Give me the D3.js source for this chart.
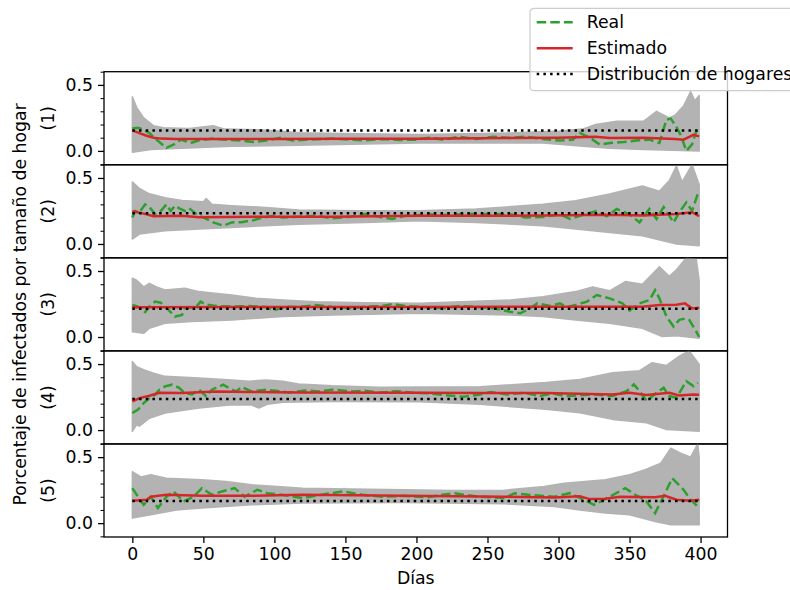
<!DOCTYPE html>
<html>
<head>
<meta charset="utf-8">
<script src="https://cdn.jsdelivr.net/npm/d3@7"></script>
<style>
  body { margin: 0; background: #fff; }
  text { font-family: "DejaVu Sans", sans-serif; }
</style>
</head>
<body>
<div id="chart"></div>
<script>
// tick labels / categories
const xTicks = [0, 50, 100, 150, 200, 250, 300, 350, 400];
const yTicks = [0, 0.5];
const yMinor = [-0.1, 0.1, 0.2, 0.3, 0.4, 0.6];
const panelLabels = ["(1)", "(2)", "(3)", "(4)", "(5)"];

// household distribution (black dotted), one value per panel
const dist = [0.155, 0.232, 0.215, 0.236, 0.168];

// Real (green dashed) [day, value]
const real1 = [[0,0.17],[4,0.175],[8,0.16],[12,0.135],[17,0.085],[24,0.023],[30,0.053],[34,0.085],[37,0.075],[41,0.06],[47,0.08],[57,0.093],[66,0.085],[76,0.078],[85,0.068],[94,0.078],[104,0.1],[113,0.078],[122,0.085],[141,0.093],[155,0.085],[164,0.08],[176,0.09],[188,0.083],[199,0.085],[209,0.1],[219,0.085],[230,0.108],[242,0.09],[254,0.108],[266,0.098],[277,0.108],[289,0.09],[301,0.078],[310,0.085],[315,0.136],[320,0.11],[324,0.085],[329,0.048],[336,0.06],[346,0.068],[355,0.078],[364,0.085],[371,0.06],[376,0.237],[379,0.245],[383,0.18],[386,0.12],[390,0.0],[394,0.05],[397,0.15],[399,0.135]];
const real2 = [[0,0.2],[2,0.25],[5,0.24],[9,0.3],[12,0.28],[16,0.227],[20,0.25],[24,0.3],[27,0.25],[30,0.29],[33,0.27],[37,0.25],[40,0.27],[45,0.227],[52,0.19],[57,0.163],[64,0.138],[70,0.163],[77,0.165],[85,0.18],[92,0.2],[99,0.213],[106,0.2],[117,0.206],[129,0.213],[141,0.195],[153,0.206],[164,0.227],[176,0.2],[183,0.19],[192,0.213],[202,0.22],[207,0.225],[219,0.22],[242,0.228],[266,0.225],[277,0.2],[289,0.205],[301,0.225],[308,0.19],[320,0.23],[327,0.25],[334,0.21],[341,0.265],[350,0.225],[357,0.163],[364,0.265],[369,0.19],[374,0.28],[381,0.163],[385,0.24],[390,0.315],[394,0.25],[398,0.378]];
const real3 = [[0,0.243],[4,0.23],[9,0.19],[12,0.23],[16,0.268],[20,0.26],[23,0.23],[26,0.2],[30,0.155],[35,0.167],[37,0.218],[45,0.23],[48,0.268],[52,0.245],[59,0.235],[70,0.23],[82,0.235],[94,0.227],[99,0.2],[108,0.23],[117,0.227],[129,0.242],[141,0.227],[155,0.218],[164,0.23],[176,0.235],[183,0.25],[192,0.235],[202,0.23],[219,0.218],[230,0.235],[242,0.227],[254,0.218],[266,0.192],[273,0.18],[280,0.218],[285,0.255],[294,0.235],[301,0.255],[306,0.227],[312,0.242],[320,0.268],[327,0.318],[336,0.293],[345,0.255],[350,0.2],[357,0.255],[364,0.28],[368,0.356],[371,0.293],[376,0.155],[381,0.079],[385,0.13],[389,0.14],[392,0.13],[397,0.04],[399,0.0]];
const real4 = [[0,0.129],[4,0.155],[8,0.205],[12,0.242],[16,0.268],[19,0.306],[23,0.331],[28,0.344],[33,0.32],[37,0.28],[42,0.27],[47,0.306],[52,0.255],[56,0.306],[64,0.344],[68,0.318],[73,0.293],[77,0.326],[84,0.293],[94,0.306],[101,0.298],[110,0.285],[122,0.3],[131,0.293],[141,0.306],[155,0.293],[164,0.298],[174,0.283],[186,0.295],[198,0.283],[209,0.278],[221,0.263],[233,0.253],[245,0.27],[252,0.288],[264,0.27],[276,0.283],[287,0.258],[296,0.278],[305,0.258],[315,0.263],[326,0.27],[338,0.258],[348,0.295],[353,0.346],[357,0.295],[362,0.22],[369,0.283],[374,0.32],[378,0.258],[383,0.245],[390,0.37],[395,0.333],[398,0.358]];
const real5 = [[0,0.265],[4,0.2],[8,0.139],[13,0.2],[18,0.114],[24,0.2],[29,0.24],[36,0.164],[43,0.2],[49,0.265],[56,0.215],[63,0.24],[72,0.265],[79,0.2],[88,0.253],[95,0.227],[105,0.215],[120,0.19],[137,0.222],[148,0.24],[162,0.215],[176,0.2],[191,0.207],[208,0.197],[226,0.227],[244,0.2],[262,0.19],[269,0.227],[279,0.215],[297,0.2],[308,0.227],[318,0.177],[325,0.139],[336,0.2],[347,0.265],[354,0.215],[361,0.177],[368,0.076],[375,0.227],[380,0.34],[388,0.253],[393,0.177],[398,0.126]];

// Estimado (red solid) [day, value]
const est1 = [[0,0.155],[5,0.135],[10,0.115],[15,0.1],[20,0.093],[30,0.09],[60,0.09],[100,0.09],[150,0.092],[200,0.092],[266,0.097],[300,0.1],[326,0.108],[336,0.098],[360,0.1],[382,0.09],[388,0.085],[395,0.122],[399,0.11]];
const est2 = [[0,0.248],[8,0.23],[15,0.21],[35,0.213],[47,0.203],[94,0.206],[141,0.206],[202,0.213],[289,0.215],[336,0.222],[359,0.215],[383,0.227],[394,0.24],[399,0.21]];
const est3 = [[0,0.225],[100,0.227],[200,0.228],[300,0.23],[359,0.23],[371,0.243],[383,0.245],[389,0.255],[394,0.217],[399,0.222]];
const est4 = [[0,0.217],[5,0.242],[12,0.26],[19,0.283],[35,0.28],[59,0.293],[82,0.288],[117,0.285],[202,0.283],[245,0.28],[291,0.28],[338,0.27],[350,0.283],[362,0.266],[378,0.283],[385,0.262],[395,0.27],[399,0.268]];
const est5 = [[0,0.17],[10,0.177],[13,0.2],[24,0.215],[49,0.207],[84,0.207],[120,0.215],[191,0.207],[262,0.2],[297,0.195],[315,0.203],[322,0.182],[333,0.185],[343,0.2],[368,0.197],[375,0.207],[383,0.177],[393,0.17],[399,0.178]];

// grey envelope of the simulations: upper / lower [day, value]
const upper1 = [[0,0.41],[3,0.33],[8,0.25],[15,0.19],[22,0.175],[40,0.17],[57,0.19],[65,0.165],[90,0.16],[118,0.138],[160,0.13],[203,0.125],[266,0.136],[301,0.15],[317,0.165],[326,0.2],[341,0.225],[360,0.225],[369,0.3],[378,0.25],[382,0.27],[388,0.34],[393,0.45],[396,0.38],[399,0.42]];
const lower1 = [[0,-0.01],[13,0.01],[35,0.02],[70,0.035],[117,0.043],[202,0.06],[289,0.06],[317,0.035],[336,0.02],[360,0.01],[380,0.005],[399,0.0]];
const upper2 = [[0,0.47],[5,0.42],[12,0.38],[23,0.35],[35,0.33],[50,0.32],[52,0.345],[56,0.3],[70,0.29],[94,0.277],[117,0.257],[160,0.252],[202,0.252],[242,0.264],[289,0.3],[312,0.327],[336,0.378],[359,0.44],[371,0.4],[378,0.48],[383,0.59],[387,0.47],[394,0.6],[399,0.45]];
const lower2 = [[0,0.037],[5,0.075],[23,0.1],[47,0.113],[70,0.125],[117,0.15],[164,0.163],[202,0.175],[242,0.163],[289,0.138],[312,0.113],[336,0.087],[359,0.062],[383,0.0],[399,-0.014]];
const upper3 = [[0,0.445],[3,0.43],[8,0.38],[12,0.407],[17,0.38],[23,0.356],[37,0.369],[47,0.344],[58,0.331],[70,0.318],[87,0.293],[106,0.28],[129,0.268],[164,0.26],[202,0.255],[266,0.28],[289,0.306],[312,0.344],[324,0.38],[336,0.35],[347,0.42],[359,0.4],[371,0.533],[378,0.46],[383,0.51],[390,0.6],[397,0.59],[399,0.43]];
const lower3 = [[0,0.04],[8,0.028],[12,0.066],[23,0.104],[42,0.117],[70,0.129],[106,0.155],[141,0.167],[202,0.18],[266,0.167],[289,0.155],[312,0.129],[336,0.104],[359,0.066],[373,0.003],[383,0.01],[399,-0.01]];
const upper4 = [[0,0.52],[3,0.48],[8,0.457],[15,0.43],[23,0.407],[47,0.394],[70,0.38],[82,0.37],[94,0.38],[106,0.37],[117,0.35],[141,0.336],[174,0.325],[202,0.326],[245,0.328],[291,0.36],[315,0.384],[338,0.435],[357,0.45],[366,0.51],[376,0.49],[385,0.56],[392,0.6],[399,0.5]];
const lower4 = [[0,-0.01],[3,0.04],[5,0.03],[12,0.09],[23,0.13],[47,0.167],[70,0.192],[84,0.19],[89,0.167],[95,0.195],[106,0.21],[141,0.217],[202,0.215],[245,0.195],[291,0.157],[315,0.132],[338,0.081],[362,0.056],[376,0.005],[399,-0.008]];
const upper5 = [[0,0.39],[6,0.35],[13,0.366],[24,0.34],[49,0.328],[66,0.316],[84,0.29],[102,0.278],[120,0.265],[155,0.258],[191,0.253],[226,0.247],[262,0.25],[290,0.278],[304,0.303],[333,0.328],[350,0.366],[361,0.404],[372,0.455],[379,0.568],[386,0.53],[393,0.5],[398,0.6],[399,0.5]];
const lower5 = [[0,0.038],[13,0.063],[31,0.1],[49,0.114],[84,0.139],[120,0.152],[191,0.157],[262,0.146],[297,0.126],[315,0.1],[333,0.076],[350,0.063],[368,0.013],[379,-0.012],[399,-0.012]];

const reals = [real1, real2, real3, real4, real5];
const ests = [est1, est2, est3, est4, est5];
const uppers = [upper1, upper2, upper3, upper4, upper5];
const lowers = [lower1, lower2, lower3, lower4, lower5];

// layout
const W = 790, H = 590;
const left = 104, right = 727.5, top0 = 71.7, panelH = 93.06;
const fontSize = 17.3;

const svg = d3.select("#chart").append("svg")
    .attr("width", W)
    .attr("height", H);

const x = d3.scaleLinear().domain([-19.95, 418.95]).range([left, right]);

panelLabels.forEach(function (lab, i) {
    const top = top0 + i * panelH;
    const y = d3.scaleLinear().domain([-0.105, 0.6]).range([top + panelH, top]);
    const g = svg.append("g");
    const line = d3.line().x(d => x(d[0])).y(d => y(d[1]));

    // grey band
    const band = uppers[i].concat(lowers[i].slice().reverse());
    g.append("path")
        .attr("d", line(band) + "Z")
        .attr("fill", "#b3b3b3")
        .attr("stroke", "#b3b3b3")
        .attr("stroke-width", 1.5)
        .attr("stroke-linejoin", "round");

    g.append("path")
        .attr("d", line(reals[i]))
        .attr("fill", "none")
        .attr("stroke", "#2ca02c")
        .attr("stroke-width", 2.5)
        .attr("stroke-dasharray", "9.5,4.1");

    g.append("path")
        .attr("d", line(ests[i]))
        .attr("fill", "none")
        .attr("stroke", "#d62728")
        .attr("stroke-width", 2.5);

    g.append("path")
        .attr("d", line([[0, dist[i]], [399, dist[i]]]))
        .attr("fill", "none")
        .attr("stroke", "#000")
        .attr("stroke-width", 2.5)
        .attr("stroke-dasharray", "2.5,4.2");

    // frame
    g.append("rect")
        .attr("x", left).attr("y", top)
        .attr("width", right - left).attr("height", panelH)
        .attr("fill", "none")
        .attr("stroke", "#000")
        .attr("stroke-width", 1.3);

    // y axis ticks
    const ya = d3.axisLeft(y).tickValues(yTicks).tickFormat(d3.format(".1f"))
        .tickSize(6).tickPadding(5);
    const yg = g.append("g").attr("transform", `translate(${left},0)`).call(ya);
    yg.select(".domain").remove();
    yg.selectAll("line").attr("stroke-width", 1.3);
    yg.selectAll("text").attr("font-size", fontSize).attr("font-family", "DejaVu Sans").attr("fill", "#000");

    const ym = d3.axisLeft(y).tickValues(yMinor).tickFormat("").tickSize(3.5);
    const ymg = g.append("g").attr("transform", `translate(${left},0)`).call(ym);
    ymg.select(".domain").remove();
    ymg.selectAll("line").attr("stroke-width", 1);

    // panel label
    g.append("text")
        .attr("transform", `translate(48,${top + panelH / 2}) rotate(-90)`)
        .attr("text-anchor", "middle")
        .attr("dominant-baseline", "central")
        .attr("font-size", fontSize)
        .text(lab);
});

// x axis
const bottom = top0 + 5 * panelH;
const xa = svg.append("g")
    .attr("transform", `translate(0,${bottom})`)
    .call(d3.axisBottom(x).tickValues(xTicks).tickSize(6).tickPadding(5));
xa.select(".domain").remove();
xa.selectAll("line").attr("stroke-width", 1.3);
xa.selectAll("text").attr("font-size", fontSize).attr("font-family", "DejaVu Sans").attr("fill", "#000");

svg.append("text")
    .attr("x", (left + right) / 2)
    .attr("y", 584)
    .attr("text-anchor", "middle")
    .attr("font-size", fontSize)
    .text("Días");

svg.append("text")
    .attr("transform", `translate(20,${top0 + 2.5 * panelH}) rotate(-90)`)
    .attr("text-anchor", "middle")
    .attr("dominant-baseline", "central")
    .attr("font-size", fontSize)
    .text("Porcentaje de infectados por tamaño de hogar");

// legend
const legendItems = [
    { name: "Real", color: "#2ca02c", dash: "9.5,4.1" },
    { name: "Estimado", color: "#d62728", dash: null },
    { name: "Distribución de hogares", color: "#000", dash: "2.5,4.2" }
];
const lg = svg.append("g");
lg.append("rect")
    .attr("x", 530).attr("y", 8.3)
    .attr("width", 300).attr("height", 82.4)
    .attr("rx", 4)
    .attr("fill", "#fff").attr("fill-opacity", 0.8)
    .attr("stroke", "#cccccc").attr("stroke-width", 1.2);
legendItems.forEach(function (d, i) {
    const yy = 22.3 + i * 25.9;
    lg.append("line")
        .attr("x1", 536.7).attr("x2", 572.7)
        .attr("y1", yy).attr("y2", yy)
        .attr("stroke", d.color)
        .attr("stroke-width", 2.5)
        .attr("stroke-dasharray", d.dash);
    lg.append("text")
        .attr("x", 586.7).attr("y", yy)
        .attr("dominant-baseline", "central")
        .attr("font-size", fontSize)
        .text(d.name);
});
</script>
</body>
</html>
